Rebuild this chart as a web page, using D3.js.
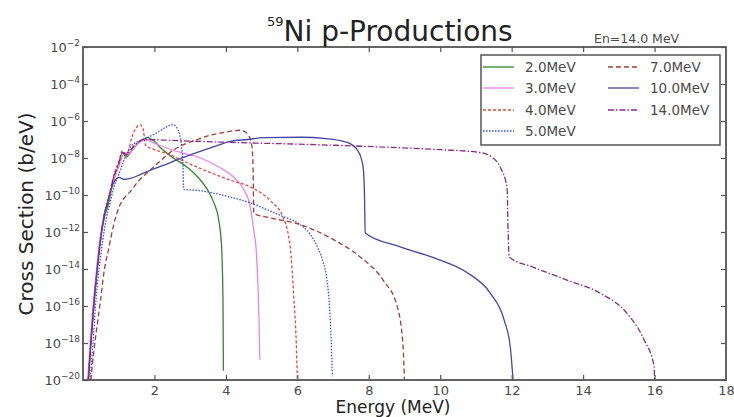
<!DOCTYPE html>
<html>
<head>
<meta charset="utf-8">
<script src="https://cdn.jsdelivr.net/npm/d3@7"></script>
<style>
  body { margin: 0; background: #fff; }
  svg { display: block; font-family: "DejaVu Sans", sans-serif; }
</style>
</head>
<body>
<svg id="chart" width="734" height="417"></svg>
<script>
// Outgoing proton spectra of 59Ni for several incident energies (cross section in b/eV)
const seriesLabels = ["2.0MeV", "3.0MeV", "4.0MeV", "5.0MeV", "7.0MeV", "10.0MeV", "14.0MeV"];

const energy2 = [0.15, 0.22, 0.3, 0.4, 0.5, 0.6, 0.71, 0.85, 1.0, 1.1, 1.2, 1.4, 1.6, 1.8, 2.0, 2.17, 2.53, 2.92, 3.2, 3.48, 3.66, 3.8, 3.88, 3.9, 3.92, 3.93];
const xs2 = [1e-20, 1e-18, 1e-16, 1.58e-14, 6.31e-13, 6.31e-12, 3.16e-11, 6.31e-10, 3.98e-9, 2.0e-8, 1.12e-8, 3.16e-8, 7.94e-8, 1.26e-7, 7.94e-8, 3.55e-8, 1.0e-8, 3.16e-9, 1.0e-9, 2.0e-10, 3.98e-11, 4.47e-12, 1.58e-13, 1.26e-14, 1e-16, 3.16e-20];

const energy3 = [0.13, 0.2, 0.28, 0.38, 0.48, 0.6, 0.75, 0.9, 1.05, 1.15, 1.25, 1.5, 1.75, 2.0, 2.4, 2.73, 3.29, 3.85, 4.2, 4.5, 4.68, 4.78, 4.85, 4.9, 4.93, 4.95];
const xs3 = [1e-20, 1e-18, 1e-16, 1e-14, 5.01e-13, 1e-11, 1e-10, 1e-9, 6.31e-9, 2.0e-8, 1.58e-8, 5.01e-8, 1e-7, 6.31e-8, 3.16e-8, 2.0e-8, 1e-8, 2.88e-9, 1e-9, 2.0e-10, 2.51e-11, 1.26e-12, 1e-13, 1e-15, 1e-17, 1.26e-19];

const energy4 = [0.15, 0.22, 0.3, 0.4, 0.5, 0.6, 0.71, 0.85, 1.0, 1.1, 1.2, 1.4, 1.6, 1.68, 1.75, 2.0, 2.25, 3.2, 4.13, 4.69, 5.24, 5.6, 5.8, 5.9, 5.97, 6.0];
const xs4 = [1e-20, 1e-18, 1e-16, 1e-14, 5.01e-13, 1e-11, 6.31e-11, 1e-9, 6.31e-9, 2.51e-8, 1.26e-8, 2.0e-7, 6.31e-7, 3.98e-7, 5.01e-8, 2.82e-8, 2.0e-8, 3.16e-9, 6.31e-10, 2.69e-10, 5.01e-11, 6.31e-12, 1.58e-13, 3.16e-16, 1e-18, 1e-20];

const energy5 = [0.2, 0.28, 0.35, 0.45, 0.55, 0.65, 0.75, 0.86, 1.0, 1.15, 1.33, 1.55, 1.8, 2.1, 2.35, 2.53, 2.62, 2.7, 2.76, 2.8, 2.82, 3.2, 3.66, 4.2, 4.69, 5.1, 5.52, 6.08, 6.35, 6.56, 6.72, 6.83, 6.9, 6.94, 6.98];
const xs5 = [1e-20, 1e-18, 1e-16, 1e-14, 3.16e-13, 5.01e-12, 3.16e-11, 2.51e-10, 1.26e-9, 7.94e-9, 3.98e-8, 7.94e-8, 1.26e-7, 2.51e-7, 5.01e-7, 6.31e-7, 4.47e-7, 2.0e-7, 3.98e-8, 3.16e-9, 2.0e-10, 1.78e-10, 1.26e-10, 7.08e-11, 3.72e-11, 1.78e-11, 7.94e-12, 2.51e-12, 7.94e-13, 1.58e-13, 2.51e-14, 2.51e-15, 1e-16, 3.16e-18, 1.58e-20];

const energy7 = [0.22, 0.3, 0.4, 0.49, 0.6, 0.72, 0.86, 1.0, 1.14, 1.33, 1.55, 1.8, 2.2, 2.53, 2.85, 3.2, 3.5, 3.85, 4.15, 4.4, 4.55, 4.63, 4.7, 4.74, 4.76, 4.77, 4.78, 5.15, 6.08, 7.0, 7.76, 8.4, 8.8, 8.96, 9.0];
const xs7 = [1e-20, 3.16e-19, 1e-17, 2.0e-16, 1e-14, 1.26e-13, 2.51e-12, 2.0e-11, 6.31e-11, 1.58e-10, 5.62e-10, 1.58e-9, 7.94e-9, 2.69e-8, 5.62e-8, 1e-7, 1.58e-7, 2.24e-7, 2.82e-7, 3.16e-7, 2.51e-7, 1.74e-7, 7.94e-8, 2.51e-8, 3.16e-9, 2.0e-10, 1e-11, 6.31e-12, 2.51e-12, 3.98e-13, 4.47e-14, 2.51e-15, 8.91e-17, 6.31e-19, 1e-20];

const energy10 = [0.15, 0.22, 0.3, 0.4, 0.5, 0.6, 0.7, 0.8, 0.9, 1.0, 1.15, 1.33, 1.6, 1.9, 2.25, 2.7, 3.2, 3.65, 4.13, 4.6, 5.05, 6.08, 6.8, 7.29, 7.5, 7.68, 7.8, 7.85, 7.88, 7.9, 8.88, 9.83, 10.76, 11.4, 11.79, 11.96, 12.04];
const xs10 = [1e-20, 1e-18, 1e-16, 1e-14, 5.01e-13, 7.94e-12, 5.01e-11, 2.51e-10, 6.31e-10, 8.91e-10, 7.08e-10, 7.94e-10, 1.26e-9, 2.24e-9, 3.98e-9, 8.91e-9, 2.0e-8, 3.98e-8, 7.94e-8, 1e-7, 1.26e-7, 1.32e-7, 1.12e-7, 7.94e-8, 5.62e-8, 2.69e-8, 7.94e-9, 2.24e-9, 1e-10, 8.91e-13, 1.58e-13, 3.98e-14, 6.31e-15, 5.01e-16, 1.74e-17, 6.31e-19, 1e-20];

const energy14 = [0.15, 0.22, 0.3, 0.4, 0.5, 0.6, 0.71, 0.85, 1.0, 1.1, 1.2, 1.45, 1.7, 2.5, 4.0, 6.0, 8.3, 10.0, 11.1, 11.45, 11.68, 11.87, 11.9, 11.93, 12.6, 13.55, 14.47, 15.23, 15.7, 15.99, 16.0];
const xs14 = [1e-20, 1e-18, 1e-16, 1e-14, 5.01e-13, 1e-11, 5.01e-11, 7.94e-10, 5.01e-9, 2.0e-8, 1.58e-8, 5.01e-8, 1e-7, 8.91e-8, 7.08e-8, 5.62e-8, 3.98e-8, 2.82e-8, 2.0e-8, 1.12e-8, 3.16e-9, 2.51e-10, 1.26e-12, 4.47e-14, 1.26e-14, 2.51e-15, 5.01e-16, 3.98e-17, 1.58e-18, 5.01e-20, 1e-20];

const xTickValues = [2, 4, 6, 8, 10, 12, 14, 16, 18];
const yTickExponents = [-2, -4, -6, -8, -10, -12, -14, -16, -18, -20];

// Line styles per series
const styles = [
  { color: "#2a8a2a", dash: null },
  { color: "#ee82ee", dash: null },
  { color: "#e8453c", dash: "3,2" },
  { color: "#3050ee", dash: "1.5,1.5" },
  { color: "#a33b35", dash: "5,3" },
  { color: "#4346a6", dash: null },
  { color: "#862a86", dash: "6,2,1.5,2" }
];

const seriesData = [
  [energy2, xs2], [energy3, xs3], [energy4, xs4], [energy5, xs5],
  [energy7, xs7], [energy10, xs10], [energy14, xs14]
].map(([e, v]) => e.map((d, i) => ({ e: d, v: v[i] })));

const svg = d3.select("#chart");
const plot = { left: 83, right: 726, top: 47, bottom: 380 };

const x = d3.scaleLinear().domain([0, 18]).range([plot.left, plot.right]);
const y = d3.scaleLog().domain([1e-20, 1e-2]).range([plot.bottom, plot.top]);

svg.append("defs").append("clipPath").attr("id", "plotClip")
  .append("rect")
  .attr("x", plot.left).attr("y", plot.top)
  .attr("width", plot.right - plot.left).attr("height", plot.bottom - plot.top);

// Curves
const line = d3.line()
  .x(d => x(d.e))
  .y(d => y(d.v))
  .curve(d3.curveMonotoneX);

const curves = svg.append("g").attr("clip-path", "url(#plotClip)");
seriesData.forEach((pts, i) => {
  curves.append("path")
    .datum(pts)
    .attr("d", line)
    .attr("fill", "none")
    .attr("stroke", styles[i].color)
    .attr("stroke-width", 1.3)
    .attr("stroke-dasharray", styles[i].dash);
});

// Axes: ticks on all four sides, pointing inward
const axisColor = "#555";
const tickLen = 5;

const bottomAxis = d3.axisBottom(x).tickValues(xTickValues).tickSize(-tickLen).tickPadding(5.5).tickFormat(d3.format("d"));
const gB = svg.append("g").attr("transform", `translate(0,${plot.bottom})`).call(bottomAxis);
const topAxis = d3.axisTop(x).tickValues(xTickValues).tickSize(-tickLen).tickFormat("");
const gT = svg.append("g").attr("transform", `translate(0,${plot.top})`).call(topAxis);

const yTickValues = yTickExponents.map(p => Math.pow(10, p));
const leftAxis = d3.axisLeft(y).tickValues(yTickValues).tickSize(-tickLen).tickFormat("");
const gL = svg.append("g").attr("transform", `translate(${plot.left},0)`).call(leftAxis);
const rightAxis = d3.axisRight(y).tickValues(yTickValues).tickSize(-tickLen).tickFormat("");
const gR = svg.append("g").attr("transform", `translate(${plot.right},0)`).call(rightAxis);

[gB, gT, gL, gR].forEach(g => {
  g.select(".domain").remove();
  g.selectAll(".tick line").attr("stroke", axisColor).attr("stroke-width", 1.2);
});
gB.selectAll(".tick text")
  .attr("fill", "#4a4a4a")
  .attr("font-size", 13)
  .attr("font-family", "DejaVu Sans, sans-serif");
// the tick at 18 coincides with the right edge of the frame
gB.selectAll(".tick").filter(d => d === 18).select("line").remove();
gT.selectAll(".tick").filter(d => d === 18).select("line").remove();

// Power-of-ten labels on the y axis
const yLabels = svg.append("g").attr("fill", "#4a4a4a");
yTickExponents.forEach(p => {
  const t = yLabels.append("text")
    .attr("x", 80)
    .attr("y", y(Math.pow(10, p)) + 5)
    .attr("text-anchor", "end")
    .attr("font-size", 13);
  t.append("tspan").text("10");
  t.append("tspan").attr("dy", -6).attr("font-size", 9).text("\u2212" + Math.abs(p));
});

// Frame
svg.append("rect")
  .attr("x", plot.left).attr("y", plot.top)
  .attr("width", plot.right - plot.left).attr("height", plot.bottom - plot.top)
  .attr("fill", "none").attr("stroke", axisColor).attr("stroke-width", 1.8);

// Title
const title = svg.append("text").attr("x", 267).attr("y", 41).attr("fill", "#222");
title.append("tspan").attr("font-size", 13).attr("dy", -15).text("59");
title.append("tspan").attr("font-size", 28).attr("dy", 15).text("Ni p-Productions");

svg.append("text")
  .attr("x", 594).attr("y", 43)
  .attr("font-size", 12.5).attr("fill", "#4a4a4a")
  .text("En=14.0 MeV");

// Axis titles
svg.append("text")
  .attr("transform", `translate(33,214) rotate(-90)`)
  .attr("text-anchor", "middle")
  .attr("font-size", 20).attr("fill", "#222")
  .text("Cross Section (b/eV)");

svg.append("text")
  .attr("x", 393).attr("y", 413)
  .attr("text-anchor", "middle")
  .attr("font-size", 17).attr("fill", "#222")
  .text("Energy (MeV)");

// Legend
const legend = svg.append("g");
legend.append("rect")
  .attr("x", 481).attr("y", 55).attr("width", 239).attr("height", 90)
  .attr("fill", "#fff").attr("stroke", "#555").attr("stroke-width", 1.5);

const legendPos = [
  [483, 67], [483, 88], [483, 110], [483, 131],
  [608, 67], [608, 88], [608, 110]
];
seriesLabels.forEach((lab, i) => {
  const [lx, ly] = legendPos[i];
  legend.append("line")
    .attr("x1", lx).attr("x2", lx + 31).attr("y1", ly).attr("y2", ly)
    .attr("stroke", styles[i].color).attr("stroke-width", 1.3)
    .attr("stroke-dasharray", styles[i].dash);
  legend.append("text")
    .attr("x", lx + 42).attr("y", ly + 5)
    .attr("font-size", 13.5).attr("fill", "#4a4a4a")
    .text(lab);
});
</script>
</body>
</html>
